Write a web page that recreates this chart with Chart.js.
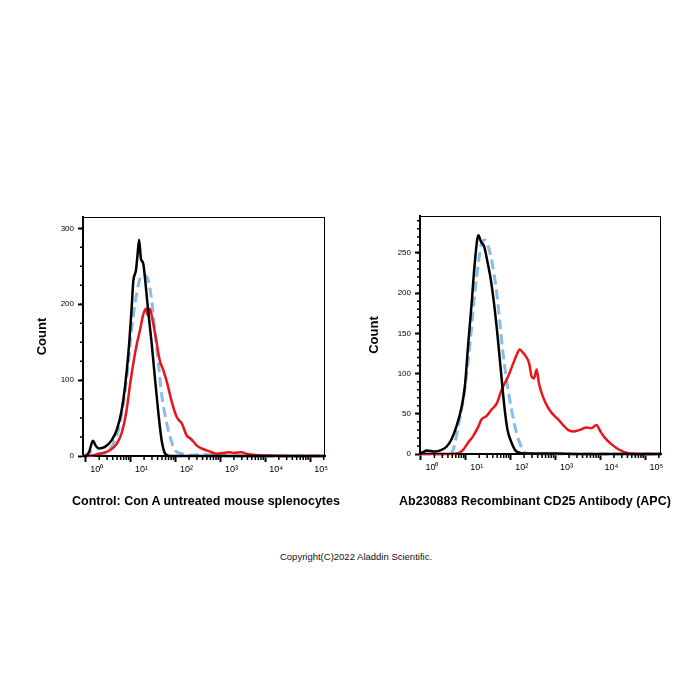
<!DOCTYPE html>
<html lang="en">
<head>
<meta charset="UTF-8">
<title>CD25 flow cytometry histograms</title>
<script src="https://cdn.jsdelivr.net/npm/chart.js"></script>
<style>
  body { margin: 0; background: #fff; width: 700px; height: 700px; position: relative; font-family: Arial, "Liberation Sans", sans-serif; }
  .panel { position: absolute; top: 200px; }
  .caption { position: absolute; top: 493px; width: 400px; line-height: 16px; text-align: center; font-size: 12.5px; font-weight: bold; color: #000; }
  #copyright { position: absolute; top: 551px; left: 0; width: 712px; text-align: center; font-size: 9.5px; color: #111; }
</style>
</head>
<body>
  <canvas id="leftChart" class="panel" width="350" height="330" style="left:0"></canvas>
  <canvas id="rightChart" class="panel" width="350" height="330" style="left:350px"></canvas>
  <div class="caption" style="left:6px">Control: Con A untreated mouse splenocytes</div>
  <div class="caption" style="left:335px">Ab230883 Recombinant CD25 Antibody (APC)</div>
  <div id="copyright">Copyright(C)2022 Aladdin Scientific.</div>

<script>
  // x values are log10 of fluorescence (decades), y values are counts

  const decades = [0, 1, 2, 3, 4, 5];
  const superscripts = ['\u2070', '\u00b9', '\u00b2', '\u00b3', '\u2074', '\u2075'];

  // left panel: Con A untreated
  const leftTicksY = [0, 100, 200, 300];
  const leftBlackX = [-0.06, 0.00, 0.08, 0.16, 0.22, 0.29, 0.43, 0.58, 0.69, 0.80, 0.875, 0.95, 1.02, 1.06, 1.12, 1.15, 1.19, 1.23, 1.28, 1.34, 1.39, 1.47, 1.54, 1.62, 1.69, 1.77, 1.88, 5.33];
  const leftBlackY = [0, 0, 6, 20, 14, 10, 12, 21, 34, 60, 91, 135, 192, 230, 245, 262, 285, 260, 254, 223, 192, 148, 104, 56, 21, 3, 0, 0];
  const leftRedX = [-0.06, 0.05, 0.32, 0.54, 0.69, 0.80, 0.91, 0.99, 1.06, 1.14, 1.21, 1.28, 1.34, 1.38, 1.43, 1.49, 1.57, 1.65, 1.73, 1.82, 1.91, 2.03, 2.14, 2.25, 2.33, 2.40, 2.47, 2.58, 2.69, 2.80, 2.92, 3.05, 3.18, 3.30, 3.47, 3.58, 3.66, 3.85, 4.03, 4.50, 5.33];
  const leftRedY = [0, 0, 3, 7.5, 16, 30, 60, 95, 122, 148, 166, 186, 194, 186, 194, 179, 153, 126, 113, 95, 73, 51, 43, 27, 23, 19, 14, 10, 7.5, 5, 3, 4, 5, 4, 5, 3, 2, 1, 0.5, 0, 0];
  const leftBlueX = [-0.06, 0.05, 0.16, 0.24, 0.35, 0.47, 0.61, 0.73, 0.84, 0.95, 1.02, 1.10, 1.17, 1.25, 1.32, 1.39, 1.47, 1.54, 1.62, 1.69, 1.79, 1.88, 1.99, 2.15, 2.40, 2.60, 2.90, 3.20, 5.33];
  const leftBlueY = [0, 3, 6, 3, 3, 5, 16, 34, 69, 122, 166, 201, 225, 238, 238, 232, 205, 166, 122, 82, 47, 25, 7.5, 3, 1, 2, 1, 0, 0];

  // right panel: Ab230883 CD25 (APC)
  const rightTicksY = [0, 50, 100, 150, 200, 250];
  const rightBlackX = [-0.02, 0.01, 0.13, 0.31, 0.46, 0.57, 0.68, 0.79, 0.91, 0.98, 1.05, 1.13, 1.20, 1.28, 1.34, 1.41, 1.49, 1.56, 1.63, 1.71, 1.78, 1.86, 1.93, 2.02, 2.13, 2.32, 3.00, 3.50, 5.35];
  const rightBlackY = [0, 1, 4.5, 3, 5, 9, 18, 34, 59, 84, 134, 187, 237, 272, 264, 258, 237, 216, 187, 146, 105, 59, 30, 14, 3, 0.5, 0.5, 0, 0];
  const rightRedX = [-0.02, 0.60, 0.83, 0.94, 1.05, 1.16, 1.28, 1.35, 1.46, 1.57, 1.69, 1.80, 1.94, 2.06, 2.14, 2.20, 2.26, 2.32, 2.41, 2.47, 2.52, 2.58, 2.63, 2.72, 2.84, 2.95, 3.06, 3.17, 3.28, 3.39, 3.54, 3.69, 3.80, 3.91, 4.00, 4.10, 4.25, 4.43, 4.65, 4.80, 5.35];
  const rightRedY = [0, 0, 1, 5, 14, 22, 34, 43, 47, 55, 63, 80, 96, 113, 124, 130, 127, 123, 113, 96, 94, 105, 88, 71, 57, 49, 43, 36, 30, 28, 30, 33, 32, 36, 28, 20, 12, 5, 0.5, 0, 0];
  const rightBlueX = [-0.02, 0.60, 0.72, 0.76, 0.83, 0.94, 1.04, 1.13, 1.20, 1.28, 1.35, 1.43, 1.50, 1.59, 1.69, 1.76, 1.83, 1.91, 2.02, 2.13, 2.24, 2.35, 2.60, 5.35];
  const rightBlueY = [0, 0, 5, 14, 34, 67, 109, 158, 200, 237, 262, 266, 258, 237, 200, 163, 125, 92, 55, 26, 9, 1, 0, 0];

  const points = (xs, ys) => xs.map((v, i) => ({ x: v, y: ys[i] }));

  // box outline + minor tick marks
  const minorTicks = {
    id: 'minorTicks',
    afterDraw(chart, args, opts) {
      const { ctx, chartArea: a, scales: { x, y } } = chart;
      ctx.save();
      ctx.strokeStyle = '#000';
      ctx.lineWidth = 1;
      ctx.strokeRect(a.left + 0.5, a.top + 0.5, a.right - a.left - 1, a.bottom - a.top - 1);
      ctx.lineWidth = 1.5;
      ctx.beginPath();
      for (const d of decades) {
        for (let k = 2; k <= 9; k++) {
          const v = d + Math.log10(k);
          if (v > x.max) break;
          const px = x.getPixelForValue(v);
          ctx.moveTo(px, a.bottom);
          ctx.lineTo(px, a.bottom + 4);
        }
      }
      for (let v = opts.yStep; v < y.max; v += opts.yStep) {
        const py = y.getPixelForValue(v);
        ctx.moveTo(a.left, py);
        ctx.lineTo(a.left - 3, py);
      }
      ctx.stroke();
      ctx.restore();
    }
  };

  function histogram(id, p) {
    return new Chart(document.getElementById(id), {
      type: 'line',
      data: {
        datasets: [
          { data: points(p.blackX, p.blackY), borderColor: '#000', borderWidth: 2.5 },
          { data: points(p.redX, p.redY), borderColor: '#e8151b', borderWidth: 2.5 },
          { data: points(p.blueX, p.blueY), borderColor: '#86bde9', borderWidth: 3, borderDash: [10, 5] }
        ].map(ds => Object.assign(ds, { pointRadius: 0, fill: false, clip: false, cubicInterpolationMode: 'monotone' }))
      },
      options: {
        responsive: false,
        animation: false,
        layout: { padding: p.padding },
        plugins: { legend: { display: false }, tooltip: { enabled: false }, minorTicks: { yStep: p.yStep } },
        scales: {
          x: {
            type: 'linear',
            min: p.xMin,
            max: p.xMax,
            afterBuildTicks: s => { s.ticks = decades.map(v => ({ value: v })); },
            afterFit: s => { s.height = p.xHeight; },
            border: { width: 2, color: '#000' },
            grid: { drawOnChartArea: false, tickLength: 6, tickWidth: 2, tickColor: '#000' },
            ticks: {
              color: '#000',
              font: { family: 'Arial, "Liberation Sans", sans-serif', size: 9 },
              labelOffset: 11,
              padding: 2,
              maxRotation: 0,
              callback: v => '10' + superscripts[v]
            }
          },
          y: {
            min: 0,
            max: p.yMax,
            afterBuildTicks: s => { s.ticks = p.ticksY.map(v => ({ value: v })); },
            afterFit: s => { s.width = 53; },
            border: { width: 2, color: '#000' },
            grid: { drawOnChartArea: false, tickLength: 5, tickWidth: 2, tickColor: '#000' },
            ticks: {
              color: '#000',
              font: { family: 'Arial, "Liberation Sans", sans-serif', size: 8 },
              padding: 4
            },
            title: {
              display: true,
              text: 'Count',
              color: '#000',
              font: { family: 'Arial, "Liberation Sans", sans-serif', size: 13, weight: 'bold', lineHeight: 1.2 },
              padding: { top: p.countPad, bottom: 0 }
            }
          }
        }
      },
      plugins: [minorTicks]
    });
  }

  histogram('leftChart', {
    blackX: leftBlackX, blackY: leftBlackY,
    redX: leftRedX, redY: leftRedY,
    blueX: leftBlueX, blueY: leftBlueY,
    ticksY: leftTicksY, yMax: 315, yStep: 25,
    xMin: -0.06, xMax: 5.33,
    padding: { left: 30, right: 25, top: 17, bottom: 0 },
    xHeight: 74, countPad: 5
  });

  histogram('rightChart', {
    blackX: rightBlackX, blackY: rightBlackY,
    redX: rightRedX, redY: rightRedY,
    blueX: rightBlueX, blueY: rightBlueY,
    ticksY: rightTicksY, yMax: 296, yStep: 10,
    xMin: -0.02, xMax: 5.35,
    padding: { left: 17, right: 39, top: 16, bottom: 0 },
    xHeight: 76, countPad: 0
  });
</script>
</body>
</html>
